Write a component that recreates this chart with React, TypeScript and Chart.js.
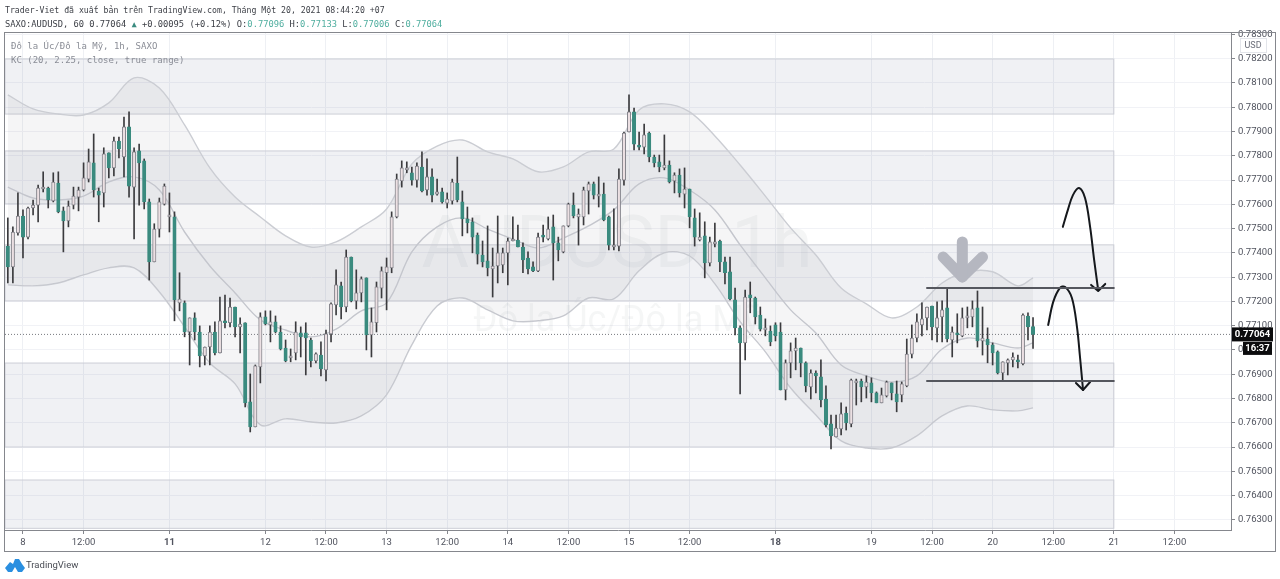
import { useEffect, useRef } from 'react'
import Chart from 'chart.js/auto'

// all prices are in points (1 = 0.00001)
const firstBar = -3

const opens = [
  77428,77342,77482,77552,77465,77585,77597,77663,77667,77614,
  77688,77573,77532,77597,77630,77659,77704,77771,77655,77647,
  77812,77750,77861,77795,77919,77671,77820,77779,77610,77363,
  77498,77601,77548,77548,77194,77194,77074,77132,77074,76975,
  77012,77074,76988,77120,77112,77177,77095,77112,76786,76683,
  76930,77136,77103,77116,77074,77008,76967,76988,77070,77070,
  77041,76955,76979,76918,77066,77185,77264,77177,77383,77202,
  77235,77297,77062,77112,77255,77318,77338,77548,77696,77742,
  77730,77700,77754,77659,77713,77642,77651,77605,77614,77688,
  77610,77540,77528,77473,77391,77367,77334,77346,77350,77400,
  77449,77453,77424,77379,77342,77326,77470,77457,77507,77441,
  77404,77511,77597,77548,77548,77655,77684,77634,77642,77548,
  77424,77428,77700,77898,77981,77844,77836,77894,77795,77775,
  77750,77762,77696,77721,77642,77663,77544,77453,77470,77359,
  77437,77449,77363,77322,77206,77091,77029,77227,77214,77144,
  77082,77078,77103,77074,76835,76947,76996,77008,76947,76848,
  76905,76889,76798,76695,76642,76675,76740,76695,76864,76872,
  76848,76864,76823,76782,76811,76864,76819,76815,76852,76983,
  77049,77103,77132,77181,77091,77136,77173,77041,77070,77058,
  77132,77136,77173,77037,77045,77021,76992,76905,76947,76959,
  76955,76943,77140,77096,
]
const highs = [
  77544,77507,77647,77577,77589,77618,77679,77734,77671,77730,
  77734,77589,77614,77671,77671,77771,77828,77890,77667,77833,
  77812,77877,77877,77960,77981,77833,77848,77787,77622,77520,
  77626,77684,77647,77569,77318,77202,77132,77153,77099,77012,
  77099,77116,77218,77226,77214,77177,77132,77112,76901,76938,
  77153,77161,77161,77140,77099,77041,77004,77116,77095,77112,
  77049,76988,77033,77082,77194,77330,77280,77412,77383,77330,
  77301,77297,77173,77280,77342,77379,77569,77725,77779,77775,
  77754,77771,77816,77787,77746,77704,77667,77647,77704,77795,
  77655,77589,77544,77482,77449,77511,77420,77552,77420,77461,
  77548,77515,77441,77404,77363,77482,77515,77548,77556,77465,
  77511,77605,77647,77581,77671,77692,77692,77713,77688,77552,
  77581,77746,77898,78051,77997,77898,77931,77898,77803,77803,
  77886,77779,77730,77746,77750,77663,77581,77565,77528,77465,
  77523,77453,77383,77383,77255,77099,77247,77280,77218,77177,
  77128,77099,77112,77112,76959,77029,77049,77008,76951,76918,
  76914,76959,76852,76732,76732,76782,76765,76880,76880,76880,
  76893,76885,76827,76843,76872,76864,76872,76868,77045,77103,
  77149,77194,77177,77181,77198,77202,77255,77095,77149,77173,
  77177,77202,77243,77177,77091,77029,76996,76951,76963,76988,
  76979,77149,77153,77133,
]
const lows = [
  77276,77276,77473,77379,77457,77556,77528,77651,77585,77610,
  77565,77404,77507,77581,77573,77655,77692,77630,77528,77589,
  77709,77717,77791,77713,77630,77457,77597,77581,77288,77363,
  77465,77597,77486,77120,77161,77054,76938,77041,76930,76938,
  76938,76979,76988,77091,77095,77054,76988,76765,76662,76683,
  76864,77103,77033,77070,77000,76951,76951,76959,76971,76897,
  76930,76947,76893,76872,77033,77144,77128,77157,77198,77169,
  77198,77000,76971,77074,77214,77165,77318,77544,77671,77730,
  77679,77671,77651,77638,77610,77638,77605,77585,77601,77610,
  77470,77482,77400,77354,77342,77305,77218,77276,77318,77268,
  77449,77424,77318,77313,77322,77322,77445,77453,77288,77367,
  77400,77507,77544,77432,77515,77560,77622,77589,77532,77412,
  77412,77408,77679,77898,77824,77824,77808,77775,77754,77734,
  77742,77688,77647,77630,77585,77503,77428,77449,77297,77346,
  77424,77322,77272,77206,77062,76819,76959,77153,77107,77078,
  77058,77017,77037,76835,76794,76885,76918,76889,76827,76798,
  76823,76765,76683,76592,76642,76650,76670,76683,76773,76786,
  76802,76786,76782,76782,76806,76794,76745,76786,76848,76967,
  77033,77058,77082,77041,77033,77033,77033,76971,77029,77054,
  77091,77095,77012,76979,76947,76938,76901,76876,76897,76930,
  76926,76938,77041,77006,
]
const closes = [
  77342,77486,77552,77465,77585,77597,77667,77667,77618,77692,
  77569,77532,77593,77634,77659,77709,77775,77659,77638,77808,
  77750,77861,77828,77919,77675,77816,77771,77610,77363,77498,
  77610,77675,77556,77206,77210,77074,77132,77074,76975,77012,
  77074,76988,77120,77112,77177,77095,77107,76782,76683,76934,
  77136,77107,77116,77074,77004,76955,76971,77074,77054,77049,
  76955,76984,76922,77066,77190,77268,77177,77383,77202,77235,
  77293,77062,77116,77260,77326,77342,77548,77704,77750,77750,
  77700,77758,77655,77713,77638,77651,77610,77622,77692,77618,
  77540,77523,77465,77395,77363,77338,77346,77400,77400,77449,
  77457,77424,77371,77334,77326,77465,77465,77498,77441,77412,
  77511,77601,77552,77560,77659,77684,77638,77642,77536,77432,
  77432,77704,77894,77981,77848,77836,77886,77795,77771,77754,
  77762,77692,77721,77647,77663,77548,77465,77465,77359,77445,
  77441,77363,77318,77210,77091,77029,77218,77214,77136,77086,
  77091,77033,77058,76835,76947,76996,77008,76947,76852,76905,
  76893,76794,76691,76646,76678,76737,76699,76876,76872,76848,
  76868,76823,76782,76815,76868,76823,76786,76860,76983,77049,
  77116,77128,77177,77095,77132,77165,77045,77074,77062,77132,
  77140,77169,77037,77049,77021,76988,76905,76951,76959,76971,
  76951,77144,77095,77064,
]

// Keltner channel, read every few bars
const kcBars = [-3,2,7,12,17,22,27,32,37,42,47,52,57,62,67,72,77,82,87,92,97,102,107,112,117,122,127,132,137,142,147,152,157,162,167,172,177,182,187,192,197,200]
const kcUpper = [
  78051,77993,77972,77968,78018,78121,78079,77927,77750,77630,
  77548,77470,77424,77445,77507,77581,77766,77840,77865,77816,
  77787,77734,77754,77816,77828,77989,78014,77981,77882,77762,
  77634,77503,77391,77255,77190,77132,77177,77276,77322,77322,
  77264,77297,
]
const kcMiddle = [
  77671,77626,77618,77634,77692,77713,77659,77486,77346,77235,
  77124,77082,77054,77086,77161,77194,77404,77507,77544,77498,
  77457,77420,77461,77511,77577,77684,77709,77659,77577,77433,
  77297,77165,77070,76938,76893,76868,76893,77004,77049,77029,
  77008,77029,
]
const kcLower = [
  77268,77264,77276,77309,77338,77338,77239,77095,76946,76860,
  76691,76716,76703,76699,76728,76815,77021,77181,77214,77165,
  77120,77120,77140,77214,77210,77326,77400,77387,77272,77116,
  76992,76843,76732,76625,76596,76596,76646,76728,76769,76753,
  76749,76761,
]

// drawn rectangles: top / bottom price
const bandTops = [78199, 77820, 77433, 76946, 76464]
const bandBottoms = [77972, 77602, 77202, 76600, 76265]
const bandEndBar = 216

const lastPrice = 77064
const levelPrices = [77255, 76872]
const levelBars = [179, 216]

// hand drawn arrows
const arrowOneBars = [205.9, 206.9, 207.9, 209.1, 210.3, 211.3, 212.1, 212.9]
const arrowOnePrices = [77507, 77577, 77638, 77667, 77626, 77507, 77371, 77247]
const arrowOneHeadBars = [211.5, 212.9, 214.3]
const arrowOneHeadPrices = [77268, 77243, 77272]
const arrowTwoBars = [203, 204, 205.3, 206.3, 207.7, 208.7, 209.3, 209.9]
const arrowTwoPrices = [77103, 77198, 77255, 77260, 77214, 77095, 76971, 76835]
const arrowTwoHeadBars = [208.5, 209.9, 211.3]
const arrowTwoHeadPrices = [76864, 76835, 76868]
const grayShaftBars = [186, 186]
const grayShaftPrices = [77445, 77301]
const grayHeadBars = [182.2, 186, 190]
const grayHeadPrices = [77383, 77301, 77383]

const xTickBars = [0, 12, 29, 48, 60, 72, 84, 96, 108, 120, 132, 149, 168, 180, 192, 204, 216, 228]
const xTickLabels = ['8', '12:00', '11', '12', '12:00', '13', '12:00', '14', '12:00', '15', '12:00', '18', '19', '12:00', '20', '12:00', '21', '12:00']
const boldTicks = ['11', '18']
const yTicks = [76300, 76400, 76500, 76600, 76700, 76800, 76900, 77000, 77100, 77200, 77300, 77400, 77500, 77600, 77700, 77800, 77900, 78000, 78100, 78200, 78300]

const MONO = '"DejaVu Sans Mono", monospace'
const GREEN = '#3a8b7f'
const UP_FILL = '#ece0e3'
const UP_LINE = '#85858c'
const WICK = '#3b3b3e'
const CURVE = '#15181c'
const AXIS = '#85878d'
const KC_LINE = '#cbcdd3'
const xMin = -3.56
const xMax = 239.2

const pairs = (xs: number[], ys: number[]) => xs.map((x, i) => ({ x, y: ys[i] }))

const chartDecor = {
  id: 'chartDecor',
  beforeDatasetsDraw(chart: any) {
    const { ctx, chartArea: a, scales: { x, y } } = chart
    ctx.save()
    ctx.beginPath()
    ctx.rect(a.left, a.top, a.right - a.left, a.bottom - a.top)
    ctx.clip()

    ctx.fillStyle = 'rgba(120,123,134,0.07)'
    ctx.textAlign = 'center'
    ctx.textBaseline = 'middle'
    ctx.font = '73px Roboto, sans-serif'
    ctx.fillText('AUDUSD, 1h', 617, 249)
    ctx.font = '36px Roboto, sans-serif'
    ctx.fillText('Đô la Úc/Đô la Mỹ', 617, 322)

    const xr = x.getPixelForValue(bandEndBar)
    bandTops.forEach((top, i) => {
      const t = y.getPixelForValue(top)
      const b = y.getPixelForValue(bandBottoms[i])
      ctx.fillStyle = 'rgba(118,124,148,0.105)'
      ctx.fillRect(a.left, t, xr - a.left, b - t)
      ctx.strokeStyle = '#ccced6'
      ctx.lineWidth = 1
      ctx.strokeRect(a.left, t, xr - a.left, b - t)
    })
    ctx.restore()
  },
  afterDraw(chart: any) {
    const { ctx, chartArea: a, scales: { y } } = chart
    ctx.save()
    // outer frame of the widget
    ctx.strokeStyle = AXIS
    ctx.lineWidth = 1
    ctx.strokeRect(a.left - 0.5, a.top - 0.5, 1276 - a.left, 552 - a.top)

    // currency box
    ctx.fillStyle = '#ffffff'
    ctx.strokeStyle = '#e3e5ea'
    ctx.fillRect(1240, 38, 26, 14)
    ctx.strokeRect(1240.5, 38.5, 26, 14)
    ctx.fillStyle = '#6a6d78'
    ctx.font = '9px Roboto, sans-serif'
    ctx.textAlign = 'center'
    ctx.textBaseline = 'middle'
    ctx.fillText('USD', 1253, 45.5)

    // last price and countdown tags
    const py = y.getPixelForValue(lastPrice)
    ctx.fillStyle = '#0b0b0d'
    ctx.fillRect(1232, py - 7, 41, 14)
    ctx.fillRect(1243, py + 7.5, 29, 13)
    ctx.fillStyle = '#ffffff'
    ctx.font = 'bold 9.5px Roboto, sans-serif'
    ctx.fillText((lastPrice / 1e5).toFixed(5), 1252.5, py + 0.5)
    ctx.fillText('16:37', 1257.5, py + 14)
    ctx.restore()
  },
}

const curve = (data: any[], color: string, width: number, tension = 0.35) => ({
  type: 'line',
  data,
  borderColor: color,
  borderWidth: width,
  pointRadius: 0,
  tension,
  fill: false,
  order: 0,
  borderCapStyle: 'round',
  borderJoinStyle: 'round',
})

export default function App() {
  const canvasRef = useRef<HTMLCanvasElement>(null)

  useEffect(() => {
    document.body.style.margin = '0'
    if (!canvasRef.current) return
    const bars = opens.map((_, i) => i + firstBar)
    const isUp = (i: number) => closes[i] >= opens[i]

    const chart = new Chart(canvasRef.current, {
      type: 'bar',
      data: {
        datasets: [
          // 0 upper keltner, filled down to lower (dataset 2)
          {
            type: 'line',
            data: pairs(kcBars, kcUpper),
            borderColor: KC_LINE,
            borderWidth: 1.4,
            pointRadius: 0,
            tension: 0.35,
            fill: 2,
            backgroundColor: 'rgba(118,120,134,0.07)',
            order: 5,
          },
          {
            type: 'line',
            data: pairs(kcBars, kcMiddle),
            borderColor: KC_LINE,
            borderWidth: 1.4,
            pointRadius: 0,
            tension: 0.35,
            fill: false,
            order: 5,
          },
          {
            type: 'line',
            data: pairs(kcBars, kcLower),
            borderColor: KC_LINE,
            borderWidth: 1.4,
            pointRadius: 0,
            tension: 0.35,
            fill: false,
            order: 5,
          },
          {
            type: 'line',
            data: pairs([xMin, xMax], [lastPrice, lastPrice]),
            borderColor: '#77797f',
            borderWidth: 1,
            borderDash: [1, 2],
            pointRadius: 0,
            fill: false,
            order: 4,
          },
          // candle wicks then bodies
          {
            data: bars.map((x, i) => ({ x, y: [lows[i], highs[i]] })),
            backgroundColor: WICK,
            barThickness: 1,
            grouped: false,
            order: 3,
          },
          {
            data: bars.map((x, i) => ({ x, y: [opens[i], closes[i]] })),
            backgroundColor: bars.map((_, i) => (isUp(i) ? UP_FILL : GREEN)),
            borderColor: bars.map((_, i) => (isUp(i) ? UP_LINE : GREEN)),
            borderWidth: 1,
            borderSkipped: false,
            barThickness: 3.4,
            minBarLength: 2,
            grouped: false,
            order: 2,
          },
          curve(pairs(levelBars, [levelPrices[0], levelPrices[0]]), '#55575e', 2, 0),
          curve(pairs(levelBars, [levelPrices[1], levelPrices[1]]), '#55575e', 2, 0),
          curve(pairs(grayShaftBars, grayShaftPrices), '#b5b7c0', 11, 0),
          curve(pairs(grayHeadBars, grayHeadPrices), '#b5b7c0', 11, 0),
          curve(pairs(arrowOneBars, arrowOnePrices), CURVE, 2),
          curve(pairs(arrowOneHeadBars, arrowOneHeadPrices), CURVE, 2, 0),
          curve(pairs(arrowTwoBars, arrowTwoPrices), CURVE, 2),
          curve(pairs(arrowTwoHeadBars, arrowTwoHeadPrices), CURVE, 2, 0),
        ] as any,
      },
      options: {
        responsive: false,
        animation: false,
        events: [],
        layout: { padding: { left: 5, top: 33, right: 4, bottom: 27 } },
        plugins: { legend: { display: false }, tooltip: { enabled: false } },
        scales: {
          x: {
            type: 'linear',
            min: xMin,
            max: xMax,
            offset: false,
            afterFit: (s: any) => { s.height = 22 },
            afterBuildTicks: (s: any) => { s.ticks = xTickBars.map((value) => ({ value })) },
            grid: { offset: false, color: '#eef0f4', tickLength: 4, tickColor: AXIS },
            border: { color: AXIS },
            ticks: {
              autoSkip: false,
              maxRotation: 0,
              padding: 3,
              color: '#50535e',
              callback: (v: any) => xTickLabels[xTickBars.indexOf(v)],
              font: (c: any) => ({
                family: 'Roboto, sans-serif',
                size: 9.5,
                weight: boldTicks.includes(xTickLabels[xTickBars.indexOf(c.tick?.value)]) ? 'bold' : 'normal',
              }),
            },
          },
          y: {
            type: 'linear',
            position: 'right',
            min: 76258,
            max: 78306,
            afterFit: (s: any) => { s.width = 45 },
            afterBuildTicks: (s: any) => { s.ticks = yTicks.map((value) => ({ value })) },
            grid: { color: '#f1f2f6', tickLength: 4, tickColor: AXIS },
            border: { color: AXIS },
            ticks: {
              autoSkip: false,
              padding: 3,
              color: '#50535e',
              font: { family: 'Roboto, sans-serif', size: 9.5 },
              callback: (v: any) => (v / 1e5).toFixed(5),
            },
          },
        },
      },
      plugins: [chartDecor],
    } as any)

    return () => chart.destroy()
  }, [])

  const mono = { position: 'absolute', fontFamily: MONO, fontSize: 8.2, whiteSpace: 'pre', lineHeight: '12px' } as const
  const line2 = { ...mono, fontSize: 8.75 } as const
  const legend = { ...mono, fontSize: 9, color: '#8a8d96' } as const
  const teal = { color: '#4fae9f' }

  return (
    <div style={{ position: 'relative', width: 1280, height: 579, background: '#fff', overflow: 'hidden' }}>
      <canvas ref={canvasRef} width={1280} height={579} style={{ display: 'block' }} />
      <div style={{ ...mono, left: 5, top: 4, color: '#3c3f46' }}>
        Trader-Viet đã xuất bản trên TradingView.com, Tháng Một 20, 2021 08:44:20 +07
      </div>
      <div style={{ ...line2, left: 5, top: 18, color: '#3c3f46' }}>
        SAXO:AUDUSD, 60 0.77064 <span style={{ color: '#3a8b7f' }}>▲</span> +0.00095 (+0.12%) O:<span style={teal}>0.77096</span> H:<span style={teal}>0.77133</span> L:<span style={teal}>0.77006</span> C:<span style={teal}>0.77064</span>
      </div>
      <div style={{ ...legend, left: 11, top: 40 }}>Đô la Úc/Đô la Mỹ, 1h, SAXO</div>
      <div style={{ ...legend, left: 11, top: 54 }}>KC (20, 2.25, close, true range)</div>
      <svg width="20" height="13" viewBox="0 0 20 13" style={{ position: 'absolute', left: 5, top: 559 }}>
        <path d="M0 9 L5 3 L8 5 L10 0 L14 0 L17 5 L20 9 L17 13 L13 13 L10 8 L7 13 L3 13 Z" fill="#2a8fe0" />
      </svg>
      <div style={{ position: 'absolute', left: 26, top: 559, fontFamily: 'Roboto, sans-serif', fontSize: 9.5, lineHeight: '12px', color: '#4a4d55' }}>
        TradingView
      </div>
    </div>
  )
}
